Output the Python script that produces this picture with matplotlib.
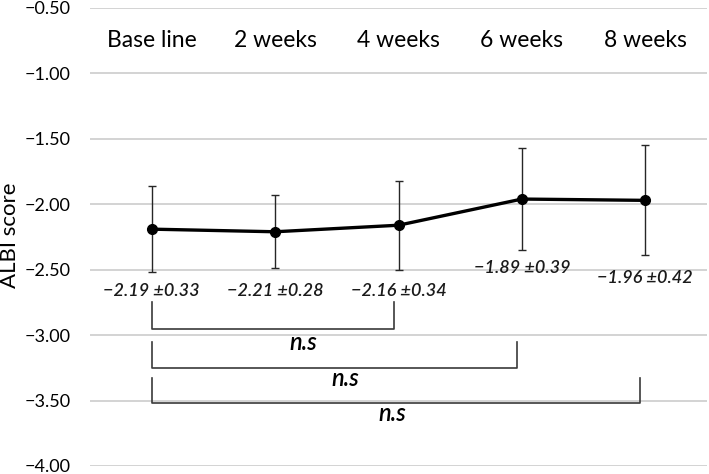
import numpy as np
import matplotlib
matplotlib.use('Agg')
import matplotlib.pyplot as plt

# data
categories = ['Base line', '2 weeks', '4 weeks', '6 weeks', '8 weeks']
means = [-2.19, -2.21, -2.16, -1.96, -1.97]
sds = [0.33, 0.28, 0.34, 0.39, 0.42]
value_labels = ['\u22122.19 \u00b10.33', '\u22122.21 \u00b10.28', '\u22122.16 \u00b10.34',
                '\u22121.89 \u00b10.39', '\u22121.96 \u00b10.42']
value_label_y = [-2.66, -2.66, -2.66, -2.49, -2.56]
yticks = [-4.0, -3.5, -3.0, -2.5, -2.0, -1.5, -1.0, -0.5]

# comparison brackets: (end category, top y, bottom y, label x, label y)
brackets = [(2, -2.75, -2.95, 1.23, -3.06),
            (3, -3.05, -3.25, 1.57, -3.33),
            (4, -3.33, -3.52, 1.95, -3.60)]

plt.rcParams['font.family'] = ['Lato', 'DejaVu Sans']

fig = plt.figure(figsize=(7.09, 4.74), dpi=100)
ax = fig.add_axes([90 / 709, 8 / 474, 617 / 709, 458 / 474])

x = np.arange(len(categories))
ax.errorbar(x, means, yerr=sds, fmt='none', ecolor='#262626', elinewidth=1.0,
            capsize=3, capthick=1.0, zorder=3)
ax.plot(x, means, color='black', lw=2.4, marker='o', ms=7, zorder=4)

for xi, lab, ly in zip(x, value_labels, value_label_y):
    ax.text(xi, ly, lab, ha='center', va='center', fontsize=13, style='italic',
            fontweight='semibold', color='#1a1a1a')

for xi, cat in zip(x, categories):
    ax.text(xi, -0.75, cat, ha='center', va='center', fontsize=16.5, color='black')

for end, top, bot, lx, ly in brackets:
    xe = end - 0.04
    ax.plot([0, 0, xe, xe], [top, bot, bot, top], color='#3a3a3a', lw=1.2, zorder=2)
    ax.text(lx, ly, 'n.s', ha='center', va='center', fontsize=17, style='italic',
            fontweight='semibold', color='black')

ax.set_xlim(-0.5, len(categories) - 0.5)
ax.set_ylim(-4.0, -0.5)
ax.set_yticks(yticks)
ax.set_yticklabels([f'{t:.2f}'.replace('-', '\u2212') for t in yticks], fontsize=13)
ax.set_xticks([])
ax.tick_params(axis='y', length=0, pad=14)
ax.yaxis.grid(True, color='#d0d0d0', lw=1.3)
ax.set_axisbelow(True)
for s in ax.spines.values():
    s.set_visible(False)
ax.set_ylabel('ALBI score', fontsize=16)
ax.yaxis.set_label_coords(-0.113, 0.503)

plt.savefig('out.png', dpi=100)
